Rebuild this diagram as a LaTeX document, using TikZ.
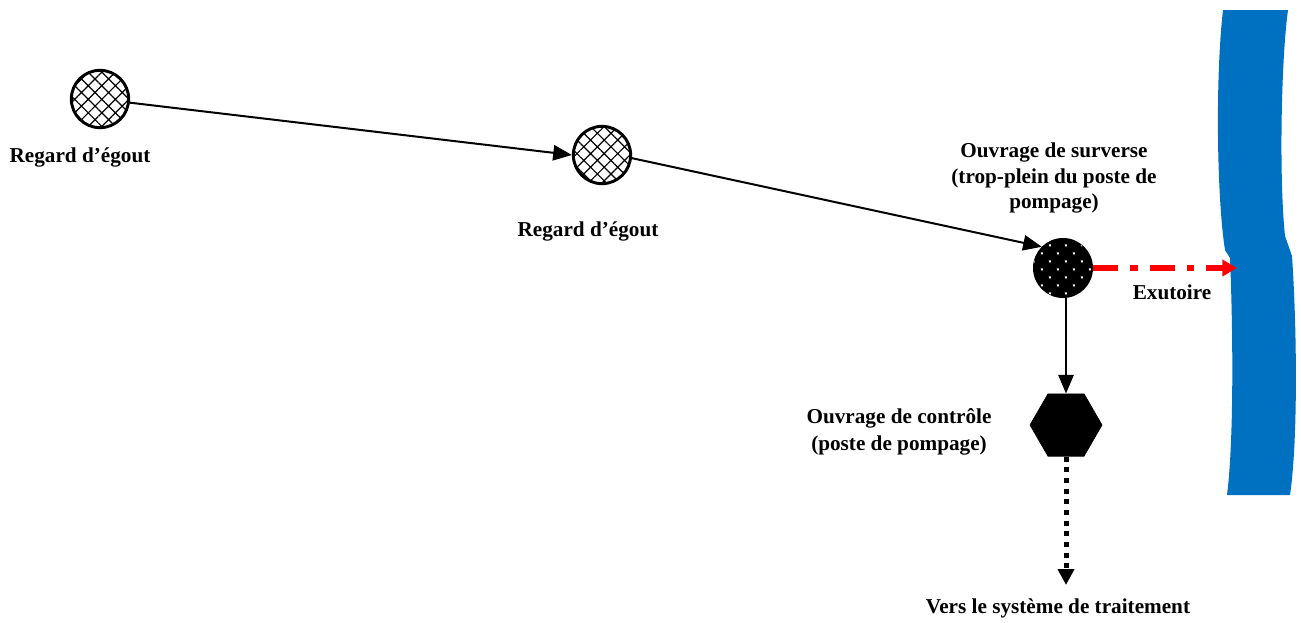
\documentclass[tikz,border=0pt]{standalone}
\usepackage{fontspec}
\setmainfont{Liberation Serif}
\usetikzlibrary{arrows.meta,patterns.meta,shapes.geometric}
\definecolor{riverblue}{HTML}{0070C0}
\definecolor{flowred}{HTML}{FF0000}
\begin{document}
\begin{tikzpicture}[x=0.75pt,y=-0.75pt,
  lbl/.style={font=\bfseries\fontsize{15.9pt}{19pt}\selectfont, align=center, inner sep=0pt},
  regard/.style={circle, draw=black, line width=2.2pt, minimum size=43pt, inner sep=0pt,
     fill=white, postaction={pattern={Hatch[distance=7.2pt,angle=45,line width=0.9pt]}}},
  surverse/.style={circle, draw=black, line width=1pt, minimum size=44pt, inner sep=0pt,
     fill=black, postaction={pattern={Dots[distance=8.5pt,angle=45,radius=1.1pt]}, pattern color=white}},
  controle/.style={regular polygon, regular polygon sides=6, fill=black, draw=black, line width=0.5pt,
     minimum size=54pt, inner sep=0pt},
  conduit/.style={line width=1.5pt, -{Triangle[length=14pt,width=11.5pt]}},
  overflow/.style={draw=flowred, line width=4pt, dash pattern=on 19pt off 9pt on 5.5pt off 9pt,
     -{Triangle[length=11pt,width=12pt]}},
  totreat/.style={line width=3.75pt, dash pattern=on 3.75pt off 4.25pt,
     -{Triangle[length=12pt,width=12pt]}}
]
\path[use as bounding box] (0,0) rectangle (1301,622);

% river
\fill[riverblue] (1223,10) -- (1288,10)
  .. controls (1281,60) and (1279,180) .. (1285,236)
  -- (1292,256)
  .. controls (1297,330) and (1298,440) .. (1290,495)
  -- (1227,495)
  .. controls (1234,440) and (1233,330) .. (1230,258)
  -- (1225,250)
  .. controls (1217,200) and (1215,80) .. (1223,10) -- cycle;

% nodes
\node[regard] (c1) at (100,99) {};
\node[regard] (c2) at (602,155) {};
\node[surverse] (c3) at (1063,268) {};
\node[controle] (hx) at (1066,425) {};
\coordinate (out) at (1237,268);
\coordinate (end) at (1066,585);

% connectors
\draw[conduit] (c1.-7) -- (c2.west);
\draw[conduit] (c2.-6) -- (c3.135);
\draw[conduit] (hx.north |- c3.south) -- (hx.north);
\draw[overflow] (c3.east) -- (out);
\draw[totreat] (hx.south) -- (end);

% labels
\node[lbl] (t1) at (80,157) {Regard d’égout};
\node[lbl] (t2) at (588,231) {Regard d’égout};
\node[lbl, font=\bfseries\fontsize{15.9pt}{18.8pt}\selectfont] (t3) at (1054,178) {Ouvrage de surverse\\(trop-plein du poste de\\pompage)};
\node[lbl] (t4) at (1172,292) {Exutoire};
\node[lbl, font=\bfseries\fontsize{15.9pt}{20.5pt}\selectfont] (t5) at (899,432) {Ouvrage de contrôle\\(poste de pompage)};
\node[lbl] (t6) at (1058,608) {Vers le système de traitement};
\end{tikzpicture}
\end{document}
